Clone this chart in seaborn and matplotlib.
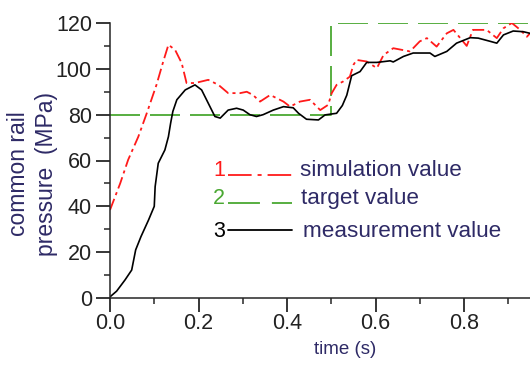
import numpy as np
import pandas as pd
import matplotlib
matplotlib.use("Agg")
import matplotlib.pyplot as plt
from matplotlib.lines import Line2D
import seaborn as sns

# ---------------- data ----------------
sim_t = [0.000, 0.023, 0.041, 0.064, 0.083, 0.105, 0.120, 0.132, 0.147, 0.162,
         0.173, 0.192, 0.222, 0.245, 0.267, 0.294, 0.309, 0.323, 0.339, 0.362,
         0.392, 0.407, 0.429, 0.452, 0.475, 0.493, 0.501, 0.512, 0.527, 0.542,
         0.550, 0.557, 0.580, 0.603, 0.618, 0.640, 0.678, 0.700, 0.716, 0.738,
         0.761, 0.776, 0.806, 0.820, 0.851, 0.874, 0.889, 0.908, 0.927, 0.942, 0.949]
sim_v = [38.4, 50.0, 60.3, 70.4, 80.6, 93.0, 103.0, 110.5, 108.3, 102.5,
         93.8, 93.8, 95.2, 93.0, 89.4, 89.4, 90.0, 88.6, 85.7, 88.6,
         85.7, 83.5, 85.7, 86.5, 82.0, 84.3, 89.4, 93.0, 94.5, 96.6,
         101.7, 103.9, 103.2, 100.3, 106.0, 109.0, 107.6, 112.0, 113.4, 109.7,
         115.5, 117.0, 110.0, 117.0, 117.0, 113.4, 117.7, 120.0, 117.0, 114.0, 115.5]

meas_t = [0.000, 0.015, 0.034, 0.049, 0.058, 0.070, 0.087, 0.100, 0.102, 0.109,
          0.124, 0.132, 0.137, 0.142, 0.151, 0.170, 0.192, 0.207, 0.222, 0.237,
          0.249, 0.267, 0.286, 0.301, 0.316, 0.331, 0.346, 0.369, 0.392, 0.414,
          0.426, 0.444, 0.471, 0.486, 0.512, 0.525, 0.535, 0.546, 0.565, 0.580,
          0.603, 0.633, 0.640, 0.663, 0.685, 0.723, 0.734, 0.761, 0.783, 0.814,
          0.832, 0.859, 0.874, 0.889, 0.911, 0.934, 0.949]
meas_v = [0.5, 3.0, 7.9, 12.2, 21.0, 26.8, 34.0, 40.0, 48.6, 58.8,
          64.6, 70.4, 76.3, 81.4, 86.5, 90.8, 93.0, 90.8, 85.0, 79.2,
          78.5, 82.0, 82.8, 82.0, 80.0, 79.2, 80.0, 82.0, 83.5, 83.0,
          80.6, 78.0, 77.7, 79.9, 80.6, 84.0, 88.5, 97.0, 98.8, 102.8,
          102.8, 103.5, 103.0, 105.4, 106.9, 106.9, 105.4, 107.6, 111.2, 113.6,
          113.4, 112.0, 111.2, 114.8, 116.5, 116.2, 115.5]

target_t = [0.0, 0.5, 0.5, 0.95]
target_v = [80, 80, 120, 120]

legend_nums = ["1", "2", "3"]
legend_labels = ["simulation value", "target value", "measurement value"]

x_ticks = [0.0, 0.2, 0.4, 0.6, 0.8]
y_ticks = [0, 20, 40, 60, 80, 100, 120]

# ---------------- style ----------------
sns.set_style("ticks")
plt.rcParams['font.family'] = ['Liberation Sans', 'DejaVu Sans']
plt.rcParams['lines.scale_dashes'] = False

RED = "#ff1a1a"
GREEN = "#4aa832"
BLACK = "#000000"
NAVY = "#2e2a66"

W, H = 530, 365
fig = plt.figure(figsize=(W / 100, H / 100), dpi=100)
ax = fig.add_axes([110 / W, 1 - 298 / H, (W - 110) / W, (298 - 23) / H])

df_t = pd.DataFrame({"t": target_t, "v": target_v})
df_s = pd.DataFrame({"t": sim_t, "v": sim_v})
df_m = pd.DataFrame({"t": meas_t, "v": meas_v})

RED_DASH = (8.6, 2.9, 2.2, 2.9)
GREEN_DASH = (21.6, 7.2)

sns.lineplot(data=df_t, x="t", y="v", ax=ax, color=GREEN, lw=1.3,
             estimator=None, sort=False)
ax.lines[-1].set_dashes(GREEN_DASH)
sns.lineplot(data=df_s, x="t", y="v", ax=ax, color=RED, lw=1.3,
             estimator=None, sort=False)
ax.lines[-1].set_dashes(RED_DASH)
sns.lineplot(data=df_m, x="t", y="v", ax=ax, color=BLACK, lw=1.2,
             estimator=None, sort=False)

ax.set_xlim(0, 0.949)
ax.set_ylim(0, 120)
ax.set_xticks(x_ticks)
ax.set_xticklabels([f"{v:.1f}" for v in x_ticks])
ax.set_yticks(y_ticks)
ax.set_yticklabels([str(v) for v in y_ticks])
ax.set_xticks(np.arange(0.1, 0.95, 0.2), minor=True)
ax.set_yticks(np.arange(10, 120, 20), minor=True)
ax.tick_params(axis='both', which='major', direction='out', length=10, width=1.1,
               labelsize=15.5, colors='black', labelcolor='#222222')
ax.tick_params(axis='y', which='major', pad=3)
ax.tick_params(axis='x', which='major', pad=1)
ax.tick_params(axis='both', which='minor', direction='out', length=4.5, width=1.1)
for s in ['top', 'right']:
    ax.spines[s].set_visible(False)
for s in ['left', 'bottom']:
    ax.spines[s].set_linewidth(1.1)
ax.set_xlabel("")
ax.set_ylabel("")

# axis labels
fig.text(345 / W, 1 - 350 / H, "time (s)", ha='center', va='center',
         fontsize=13.5, color=NAVY)
fig.text(19 / W, 1 - 174 / H, "common rail", rotation=90, ha='center',
         va='center', fontsize=16.5, color=NAVY)
fig.text(47 / W, 1 - 174 / H, "pressure  (MPa)", rotation=90, ha='center',
         va='center', fontsize=16.5, color=NAVY)

# custom legend
num_colors = [RED, GREEN, BLACK]
base_y = [176, 204, 237]
line_y = [175, 203, 230]
text_x = [300, 301, 303]
dashes = [RED_DASH, GREEN_DASH, None]
for i in range(3):
    fig.text(213 / W, 1 - base_y[i] / H, legend_nums[i], ha='left',
             va='baseline', fontsize=15.5, color=num_colors[i])
    ln = Line2D([228 / W, 292 / W], [1 - line_y[i] / H] * 2,
                transform=fig.transFigure, color=num_colors[i], lw=1.3)
    if dashes[i] is not None:
        ln.set_dashes((17, 4.3, 2.9, 4.3) if i == 0 else (23, 8.6))
    fig.add_artist(ln)
    fig.text(text_x[i] / W, 1 - base_y[i] / H, legend_labels[i], ha='left',
             va='baseline', fontsize=16.2, color=NAVY)

fig.savefig("out.png", dpi=100)
